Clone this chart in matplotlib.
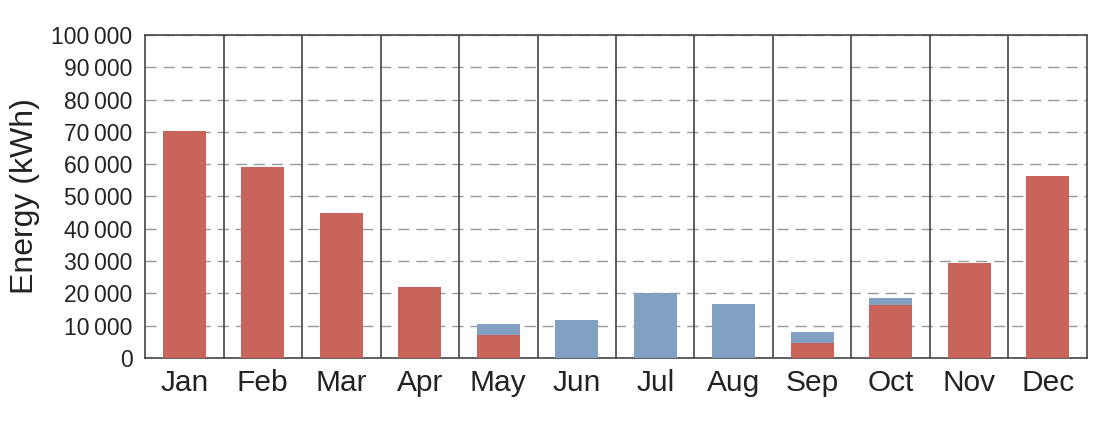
import matplotlib.pyplot as plt
import numpy as np

plt.rcParams['font.family'] = ['Liberation Sans', 'DejaVu Sans']

months = ['Jan', 'Feb', 'Mar', 'Apr', 'May', 'Jun', 'Jul', 'Aug', 'Sep', 'Oct', 'Nov', 'Dec']
heating = [70300, 59000, 45000, 22000, 7100, 0, 0, 0, 4600, 16500, 29300, 56400]
cooling = [0, 0, 0, 0, 3400, 11700, 20000, 16700, 3500, 2000, 0, 0]
yticks = np.arange(0, 100001, 10000)

red = '#C86459'
blue = '#82A1C2'

fig = plt.figure(figsize=(11.2, 4.26), dpi=100)
ax = fig.add_axes([0.1295, 0.1596, 0.841, 0.7584])

x = np.arange(len(months))
ax.bar(x, heating, width=0.55, color=red, zorder=3)
ax.bar(x, cooling, width=0.55, bottom=heating, color=blue, zorder=3)

for i in range(len(months) - 1):
    ax.axvline(i + 0.5, color='#444444', lw=1.2, zorder=4)

ax.set_xlim(-0.5, len(months) - 0.5)
ax.set_ylim(0, 100000)
ax.set_yticks(yticks)
ax.set_yticklabels([f'{v:,}'.replace(',', '\u2009') if v else '0' for v in yticks], fontsize=16.5)
ax.set_xticks(x)
ax.set_xticklabels(months, fontsize=21.5)
ax.tick_params(axis='both', length=0, colors='#222222')
ax.tick_params(axis='x', pad=8)
ax.tick_params(axis='y', pad=9)
ax.yaxis.grid(True, linestyle=(0, (8, 5)), color='#999999', lw=1.0, zorder=1)
for s in ax.spines.values():
    s.set_color('#444444')
    s.set_linewidth(1.2)
ax.set_ylabel('Energy (kWh)', fontsize=23, color='#222222', labelpad=8)

fig.savefig('out.png', dpi=100)
